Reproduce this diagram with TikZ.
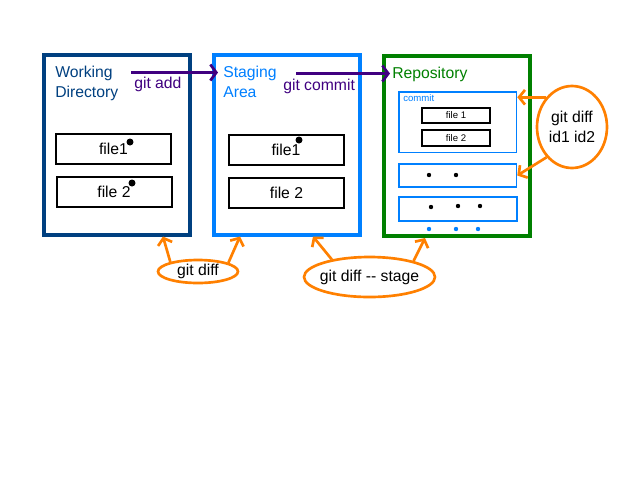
\documentclass[tikz,border=0pt]{standalone}
\usepackage{fontspec}
\setmainfont{Liberation Sans}
\usetikzlibrary{arrows.meta,shapes.geometric,calc}

\definecolor{wdblue}{HTML}{004080}
\definecolor{stblue}{HTML}{0080FF}
\definecolor{repogreen}{HTML}{008000}
\definecolor{cmdpurple}{HTML}{400080}
\definecolor{difforange}{HTML}{FF8000}

\newcommand\dgmfont{\fontsize{11.8pt}{15pt}\selectfont}
\newcommand\dgmsmall{\fontsize{7.2pt}{9pt}\selectfont}

\begin{document}
\begin{tikzpicture}[x=0.75pt,y=-0.75pt,
  area/.style={draw, line width=3pt, minimum width=109.5pt, minimum height=135pt, inner sep=0pt},
  title/.style={align=left, inner sep=0pt, font=\dgmfont, anchor=base west},
  filebox/.style={draw=black, line width=1.5pt, minimum width=86.25pt, minimum height=22.5pt, inner sep=0pt, font=\dgmfont},
  smallfile/.style={draw=black, line width=1.4pt, minimum width=51pt, minimum height=11.25pt, inner sep=0pt, font=\dgmsmall},
  snapbox/.style={draw=stblue, line width=1.2pt, inner sep=0pt},
  bigdot/.style={circle, fill=black, inner sep=0pt, minimum size=5.25pt},
  smalldot/.style={circle, fill=#1, inner sep=0pt, minimum size=3.3pt},
  smalldot/.default=black,
  cmd/.style={draw=cmdpurple, line width=2pt, -{Straight Barb[length=4.5pt, width=12pt]}},
  cmdlbl/.style={text=cmdpurple, font=\dgmfont, inner sep=0pt, anchor=base west},
  diffell/.style={ellipse, draw=difforange, line width=2pt, inner sep=0pt, font=\dgmfont},
  diffarrow/.style={draw=difforange, line width=2pt, -{Straight Barb[length=4.5pt, width=11pt]}}
]
\fill[white] (0,0) rectangle (640,480);
\useasboundingbox (0,0) rectangle (640,480);

% the three areas
\node[area, draw=wdblue] (wd) at (116.5,144.5) {};
\node[area, draw=stblue] (sa) at (287,144.5) {};
\node[area, draw=repogreen] (repo) at (457,146) {};

% two-line titles: base anchor sits on the last line
\node[title, text=wdblue] (wdtitle) at (55,97) {Working\\Directory};
\node[title, text=stblue] (satitle) at (223,97) {Staging\\Area};
\node[title, text=repogreen] (repotitle) at (392,78) {Repository};

% working directory files
\node[filebox] (wdf1) at (113.5,148.5) {file1};
\node[filebox] (wdf2) at (114,192) {file 2};
\node[bigdot] (wdd1) at (130,142) {};
\node[bigdot] (wdd2) at (132,183) {};

% staging area files
\node[filebox] (saf1) at (286,149.5) {file1};
\node[filebox] (saf2) at (286.5,193) {file 2};
\node[bigdot] (sad1) at (299,140) {};

% repository snapshots
\node[snapbox, minimum width=88.1pt, minimum height=45.4pt] (commit) at (457.75,122.25) {};
\node[text=stblue, font=\dgmsmall, inner sep=0pt, anchor=base west] (commitlbl) at (403,101) {commit};
\node[smallfile] (cf1) at (456,115.5) {file 1};
\node[smallfile, minimum height=12pt] (cf2) at (456,138) {file 2};

\node[snapbox, minimum width=88.1pt, minimum height=17.25pt] (older) at (457.75,175.5) {};
\node[smalldot] (od1) at (429,175) {};
\node[smalldot] (od2) at (456,175) {};

\node[snapbox, minimum width=88.5pt, minimum height=18pt] (oldest) at (458,209) {};
\node[smalldot] (ot1) at (431,207) {};
\node[smalldot] (ot2) at (458,206) {};
\node[smalldot] (ot3) at (480,206) {};

\node[smalldot=stblue] (more1) at (429,229) {};
\node[smalldot=stblue] (more2) at (456,229) {};
\node[smalldot=stblue] (more3) at (478,229) {};

% commands moving content forward
\coordinate (addtail) at (131,72.5);
\draw[cmd] (addtail) -- ([xshift=4.5pt]addtail -| sa.west);
\node[cmdlbl] (addlbl) at (134,88) {git add};

\coordinate (committail) at (296,73.5);
\draw[cmd] (committail) -- ([xshift=6pt]committail -| repo.west);
\node[cmdlbl] (commitcmd) at (283,90) {git commit};

% diff commands
\node[diffell, minimum width=52.5pt, minimum height=61.5pt, align=center] (idsdiff) at (572,127) {git diff\\id1 id2};
\draw[diffarrow] (idsdiff.131) -- (idsdiff.131 -| commit.east);
\draw[diffarrow] (idsdiff.230) -- (older.east);

\node[diffell, minimum width=60pt, minimum height=17.25pt] (wsdiff) at (198,271.5) {git diff};
\draw[diffarrow] (wsdiff.161) -- ([xshift=-21.4pt]wd.south east);
\draw[diffarrow] (wsdiff.16) -- ([xshift=21pt]sa.south west);

\node[diffell, minimum width=98.25pt, minimum height=30pt] (stdiff) at (369.5,277) {\makebox[0pt]{git diff -{}- stage}};
\draw[diffarrow] (stdiff.155) -- ([xshift=19.5pt]sa.south);
\draw[diffarrow] (stdiff.20) -- ([xshift=-24pt]repo.south);
\end{tikzpicture}
\end{document}
